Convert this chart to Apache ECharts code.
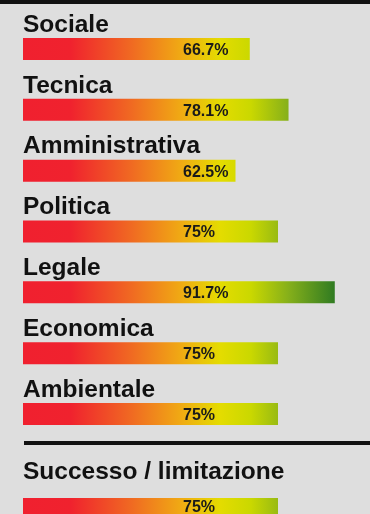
<!DOCTYPE html>
<html>
<head>
<meta charset="utf-8">
<script src="https://cdn.jsdelivr.net/npm/echarts@6/dist/echarts.min.js"></script>
<style>
  html, body { margin: 0; padding: 0; background: #dedede; }
  #chart { width: 370px; height: 514px; }
</style>
</head>
<body>
<div id="chart"></div>
<script>
const categories = ['Sociale', 'Tecnica', 'Amministrativa', 'Politica', 'Legale', 'Economica', 'Ambientale'];
const values = [66.7, 78.1, 62.5, 75, 91.7, 75, 75];
const summaryCategories = ['Successo / limitazione'];
const summaryValues = [75];

const chart = echarts.init(document.getElementById('chart'), null, { renderer: 'canvas' });

const GRID_LEFT = 23;
const GRID_WIDTH = 340;

function barGradient() {
  return new echarts.graphic.LinearGradient(GRID_LEFT, 0, GRID_LEFT + GRID_WIDTH, 0, [
    { offset: 0, color: '#f0202f' },
    { offset: 0.14, color: '#f0222e' },
    { offset: 0.32, color: '#f06a22' },
    { offset: 0.46, color: '#f0a814' },
    { offset: 0.58, color: '#e4dc00' },
    { offset: 0.67, color: '#cad800' },
    { offset: 0.78, color: '#86b01a' },
    { offset: 0.92, color: '#2e7a22' },
    { offset: 1, color: '#236a20' }
  ], true);
}

const titleFont = 'Liberation Sans';

function yAxisFor(gridIndex, data, gap) {
  return {
    type: 'category',
    gridIndex: gridIndex,
    data: data,
    inverse: true,
    axisLine: { show: false },
    axisTick: { show: false },
    splitLine: { show: false },
    axisLabel: {
      inside: true,
      interval: 0,
      margin: 0,
      align: 'left',
      verticalAlign: 'bottom',
      formatter: v => '{t|' + v + '}\n{s| }',
      rich: {
        t: {
          color: '#111',
          fontFamily: titleFont,
          fontWeight: 'bold',
          fontSize: 24.5,
          lineHeight: 24
        },
        s: { fontSize: 2, lineHeight: gap }
      }
    }
  };
}

function xAxisFor(gridIndex) {
  return { type: 'value', gridIndex: gridIndex, min: 0, max: 100, show: false };
}

function barSeries(axisIndex, data) {
  return {
    type: 'bar',
    xAxisIndex: axisIndex,
    yAxisIndex: axisIndex,
    data: data,
    barWidth: 22,
    silent: true,
    itemStyle: { color: barGradient() },
    label: {
      show: true,
      position: [160, '50%'],
      align: 'left',
      verticalAlign: 'middle',
      offset: [0, 1.5],
      formatter: p => p.value + '%',
      color: '#1a1a1a',
      fontFamily: titleFont,
      fontWeight: 'bold',
      fontSize: 16
    }
  };
}

chart.setOption({
  animation: false,
  backgroundColor: '#dedede',
  grid: [
    { left: GRID_LEFT, width: GRID_WIDTH, top: 18.6, height: 425.8 },
    { left: GRID_LEFT, width: GRID_WIDTH, top: 498, height: 16 }
  ],
  xAxis: [xAxisFor(0), xAxisFor(1)],
  yAxis: [yAxisFor(0, categories, 12), yAxisFor(1, summaryCategories, 22)],
  series: [barSeries(0, values), barSeries(1, summaryValues)],
  graphic: [
    { type: 'rect', shape: { x: 0, y: 0, width: 370, height: 4 }, style: { fill: '#111' }, silent: true },
    { type: 'rect', shape: { x: 24, y: 441, width: 346, height: 4 }, style: { fill: '#111' }, silent: true }
  ]
});
</script>
</body>
</html>
